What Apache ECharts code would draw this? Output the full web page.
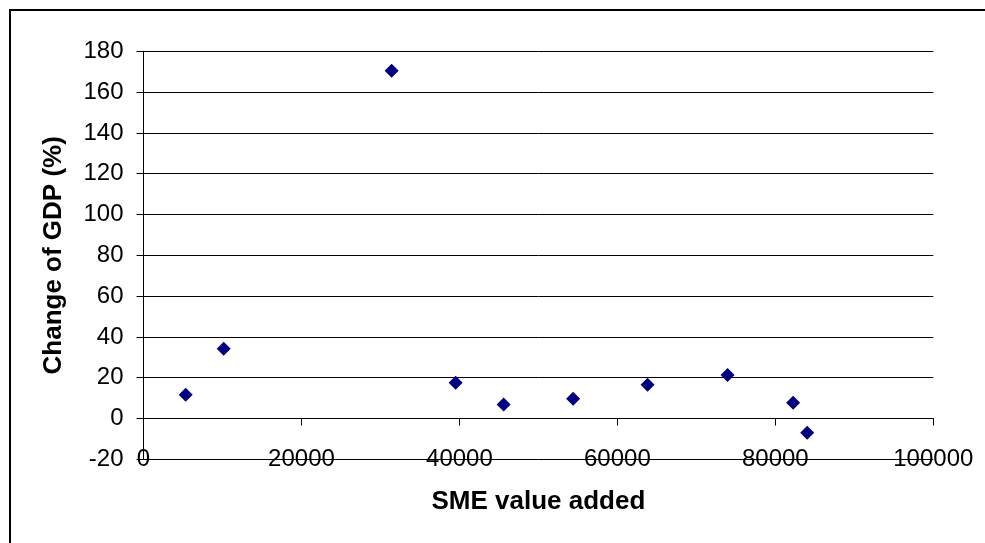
<!DOCTYPE html>
<html>
<head>
<meta charset="utf-8">
<script src="https://cdn.jsdelivr.net/npm/echarts@6/dist/echarts.min.js"></script>
<style>
html,body{margin:0;padding:0;background:#fff;}
#chart{width:985px;height:543px;}
</style>
</head>
<body>
<div id="chart"></div>
<script>
const smeValueAdded = [5340, 10150, 31420, 39520, 45600, 54400, 63820, 73950, 82250, 84030];
const gdpChange = [11.6, 34.2, 170.5, 17.5, 6.9, 9.7, 16.5, 21.3, 7.7, -7.0];
const xTicks = { min: 0, max: 100000, interval: 20000 };
const yTicks = { min: -20, max: 180, interval: 20 };
const xTitle = 'SME value added';
const yTitle = 'Change of GDP (%)';

const points = smeValueAdded.map((x, i) => [x, gdpChange[i]]);
const chart = echarts.init(document.getElementById('chart'), null, { renderer: 'canvas' });
const tickFont = { fontFamily: 'Liberation Sans', fontSize: 24, color: '#000' };
const titleFont = { fontFamily: 'Liberation Sans', fontWeight: 'bold', fontSize: 26, color: '#000' };
chart.setOption({
  animation: false,
  backgroundColor: '#fff',
  graphic: [{
    type: 'rect', shape: { x: 10, y: 10, width: 1000, height: 600 },
    style: { fill: 'none', stroke: '#000', lineWidth: 2 }, silent: true
  }],
  grid: { left: 143.5, right: 51.7, top: 51.3, bottom: 83.7, outerBoundsMode: 'none', containLabel: false },
  xAxis: {
    type: 'value', min: xTicks.min, max: xTicks.max, interval: xTicks.interval,
    axisLine: { show: true, onZero: true, lineStyle: { color: '#000', width: 1 } },
    axisTick: { show: true, inside: false, length: 7, lineStyle: { color: '#000' } },
    axisLabel: Object.assign({ margin: -12, showMinLabel: true, showMaxLabel: true, hideOverlap: false,
      formatter: v => String(v) }, tickFont),
    splitLine: { show: false },
    name: xTitle, nameLocation: 'middle', nameGap: 30, nameMoveOverlap: false,
    nameTextStyle: titleFont
  },
  yAxis: {
    type: 'value', min: yTicks.min, max: yTicks.max, interval: yTicks.interval,
    axisLine: { show: true, onZero: false, lineStyle: { color: '#000', width: 1 } },
    axisTick: { show: true, inside: false, length: 7, lineStyle: { color: '#000' } },
    axisLabel: Object.assign({ margin: 20, hideOverlap: false }, tickFont),
    splitLine: { show: true, lineStyle: { color: '#000', width: 1 } },
    name: yTitle, nameLocation: 'middle', nameGap: 76.5, nameRotate: 90, nameMoveOverlap: false,
    nameTextStyle: titleFont
  },
  series: [{
    type: 'scatter', data: points, symbol: 'diamond', symbolSize: 14,
    itemStyle: { color: '#000080', opacity: 1 }
  }]
});
</script>
</body>
</html>
